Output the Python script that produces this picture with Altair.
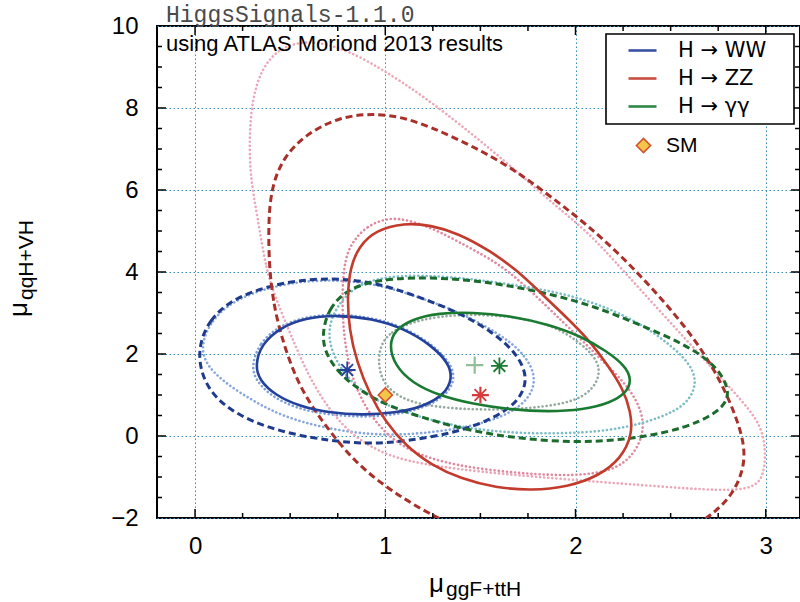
import altair as alt
import pandas as pd

# ---------------- axis ranges ----------------
X_DOMAIN = [-0.2, 3.18]
Y_DOMAIN = [-2, 10]
W, H = 643, 492

# ---------------- contours ----------------
# H -> WW
ww68_x = [0.315, 0.35, 0.45, 0.58, 0.74, 0.93, 1.10, 1.24, 1.33, 1.355, 1.31, 1.20, 1.05, 0.88, 0.70, 0.55, 0.42, 0.34]
ww68_y = [1.72, 2.25, 2.65, 2.88, 2.95, 2.87, 2.62, 2.22, 1.80, 1.42, 1.00, 0.72, 0.56, 0.51, 0.57, 0.72, 1.00, 1.35]
ww95_x = [0.005, 0.07, 0.22, 0.48, 0.73, 0.95, 1.15, 1.38, 1.56, 1.69, 1.755, 1.70, 1.56, 1.38, 1.12, 0.92, 0.72, 0.48, 0.23, 0.06]
ww95_y = [2.02, 2.85, 3.42, 3.78, 3.86, 3.74, 3.44, 3.03, 2.55, 2.03, 1.41, 0.82, 0.41, 0.09, -0.12, -0.20, -0.12, 0.06, 0.46, 1.10]
ww68o_x = [0.295, 0.34, 0.44, 0.58, 0.74, 0.94, 1.11, 1.25, 1.34, 1.37, 1.32, 1.20, 1.05, 0.88, 0.69, 0.53, 0.40, 0.32]
ww68o_y = [1.72, 2.28, 2.68, 2.91, 2.98, 2.89, 2.63, 2.22, 1.80, 1.40, 0.98, 0.68, 0.51, 0.46, 0.52, 0.68, 0.97, 1.35]
ww95o_x = [0.015, 0.08, 0.23, 0.49, 0.73, 0.95, 1.16, 1.40, 1.59, 1.73, 1.80, 1.75, 1.61, 1.41, 1.16, 0.93, 0.68, 0.46, 0.31, 0.12]
ww95o_y = [2.02, 2.84, 3.40, 3.75, 3.82, 3.71, 3.42, 3.00, 2.52, 2.03, 1.41, 0.84, 0.44, 0.19, 0.04, 0.02, 0.19, 0.48, 0.84, 1.40]

# H -> ZZ
zz68_x = [1.10, 0.95, 0.86, 0.815, 0.80, 0.81, 0.85, 0.92, 1.00, 1.11, 1.24, 1.40, 1.58, 1.77, 1.96, 2.12, 2.24, 2.30, 2.29, 2.25, 2.17, 2.07, 1.94, 1.81, 1.69, 1.55, 1.38, 1.24]
zz68_y = [5.20, 5.02, 4.62, 4.10, 3.40, 2.60, 1.80, 1.00, 0.35, -0.25, -0.70, -1.05, -1.26, -1.33, -1.24, -0.98, -0.55, 0.05, 0.60, 1.15, 1.72, 2.35, 2.95, 3.52, 4.05, 4.52, 4.95, 5.14]
zz95_x = [0.45, 0.41, 0.39, 0.385, 0.40, 0.46, 0.58, 0.76, 0.93, 1.11, 1.37, 1.635, 1.81, 2.065, 2.31, 2.59, 2.76, 2.87, 2.90, 2.83, 2.70, 2.45, 2.05, 1.60, 1.266, 1.05, 0.85, 0.68, 0.54]
zz95_y = [2.46, 3.30, 4.13, 5.15, 6.04, 6.77, 7.36, 7.78, 7.87, 7.78, 7.28, 6.63, 6.05, 5.15, 4.09, 2.63, 1.41, 0.19, -0.62, -1.44, -2.0, -2.7, -3.0, -2.7, -2.0, -1.40, -0.70, 0.27, 1.24]
zz68o_x = [1.02, 0.90, 0.82, 0.78, 0.77, 0.80, 0.86, 0.95, 1.10, 1.37, 1.72, 2.00, 2.20, 2.31, 2.36, 2.35, 2.28, 2.16, 2.02, 1.86, 1.64, 1.46, 1.28, 1.14]
zz68o_y = [5.34, 5.12, 4.70, 4.20, 3.00, 1.80, 1.00, 0.30, -0.35, -0.74, -0.92, -0.98, -0.85, -0.45, 0.10, 0.60, 1.20, 1.75, 2.40, 3.11, 4.09, 4.55, 5.00, 5.25]
zz95o_x = [0.42, 0.37, 0.33, 0.29, 0.285, 0.30, 0.35, 0.44, 0.57, 0.72, 0.90, 1.10, 1.30, 1.635, 1.89, 2.065, 2.24, 2.59, 2.85, 2.98, 3.00, 2.99, 2.94, 2.77, 2.41, 2.065, 1.46, 1.10, 0.93, 0.78, 0.62, 0.50]
zz95o_y = [3.40, 4.13, 5.31, 6.30, 7.30, 8.20, 8.97, 9.45, 9.64, 9.55, 9.18, 8.60, 7.95, 6.69, 5.63, 4.98, 4.09, 2.30, 1.00, 0.27, -0.40, -0.95, -1.28, -1.34, -1.22, -1.10, -0.87, -0.62, -0.30, 0.19, 1.20, 2.50]

# H -> gamma gamma
gg68_x = [1.02, 1.05, 1.14, 1.28, 1.46, 1.66, 1.86, 2.03, 2.16, 2.26, 2.295, 2.27, 2.18, 2.04, 1.86, 1.66, 1.46, 1.28, 1.14, 1.05]
gg68_y = [2.22, 2.58, 2.85, 3.00, 3.02, 2.93, 2.72, 2.43, 2.08, 1.72, 1.38, 1.06, 0.80, 0.64, 0.59, 0.64, 0.78, 0.99, 1.30, 1.72]
gg95_x = [0.665, 0.70, 0.80, 0.95, 1.15, 1.40, 1.64, 1.89, 2.10, 2.33, 2.57, 2.74, 2.815, 2.78, 2.66, 2.48, 2.24, 2.00, 1.72, 1.46, 1.20, 0.95, 0.78, 0.69]
gg95_y = [2.45, 3.10, 3.58, 3.80, 3.87, 3.83, 3.68, 3.44, 3.16, 2.73, 2.25, 1.73, 1.10, 0.70, 0.35, 0.08, -0.10, -0.16, -0.07, 0.11, 0.43, 0.85, 1.40, 1.95]
gg68o_x = [0.96, 1.02, 1.18, 1.40, 1.68, 1.88, 2.02, 2.12, 2.13, 2.05, 1.85, 1.55, 1.25, 1.08, 0.97]
gg68o_y = [2.10, 2.55, 2.85, 2.98, 2.92, 2.70, 2.30, 1.85, 1.41, 0.92, 0.70, 0.62, 0.70, 0.90, 1.35]
gg95o_x = [0.69, 0.72, 0.82, 0.97, 1.20, 1.46, 1.81, 2.07, 2.33, 2.50, 2.61, 2.64, 2.58, 2.45, 2.28, 2.07, 1.70, 1.40, 1.15, 0.95, 0.79]
gg95o_y = [2.30, 3.00, 3.60, 3.88, 3.93, 3.83, 3.60, 3.32, 2.79, 2.22, 1.73, 1.24, 0.75, 0.45, 0.22, 0.07, 0.05, 0.20, 0.50, 0.85, 1.40]

# best-fit points and SM
star_x = [0.80, 1.60, 1.50]
star_y = [1.61, 1.71, 1.00]
star_col = ["#23409a", "#1a7a32", "#d63a3a"]
plus_x = [1.47, 1.50]
plus_y = [1.73, 0.99]
plus_col = ["#86b98f", "#f08aa0"]
sm_x = [1.0]
sm_y = [1.0]

# legend
procs = ["H \u2192 WW", "H \u2192 ZZ", "H \u2192 \u03b3\u03b3"]
proc_cols = ["#23409a", "#c23b2c", "#1a7a32"]

# ticks
x_major = [0, 1, 2, 3]
x_minor = [0.25, 0.5, 0.75, 1.25, 1.5, 1.75, 2.25, 2.5, 2.75]
y_major = [0, 2, 4, 6, 8]
y_minor = [-1.5, -1, -0.5, 0.5, 1, 1.5, 2.5, 3, 3.5, 4.5, 5, 5.5, 6.5, 7, 7.5, 8.5, 9, 9.5]


def contour(name, xs, ys, **extra):
    rows = []
    for i, (a, b) in enumerate(zip(xs, ys)):
        r = {"cid": name, "i": i, "x": a, "y": b}
        r.update(extra)
        rows.append(r)
    return rows


FONT = "Liberation Sans"
xscale = alt.Scale(domain=X_DOMAIN, nice=False, zero=False)
yscale = alt.Scale(domain=Y_DOMAIN, nice=False, zero=False)
xaxis = alt.Axis(values=x_major, grid=True, gridDash=[1.5, 2.5], gridColor="#3f8fb5", gridWidth=1,
                 tickSize=0, domain=False, labelFontSize=24, labelFont=FONT, labelColor="black",
                 labelPadding=16, title=None)
yaxis = alt.Axis(values=[-2, 0, 2, 4, 6, 8, 10], grid=True, gridDash=[1.5, 2.5], gridColor="#3f8fb5",
                 gridWidth=1, tickSize=0, domain=False, labelFontSize=24, labelFont=FONT,
                 labelColor="black", labelPadding=19, title=None)


def X(f="x"):
    return alt.X(f"{f}:Q", scale=xscale, axis=xaxis)


def Y(f="y"):
    return alt.Y(f"{f}:Q", scale=yscale, axis=yaxis)


INTERP = "basis-closed"

# ---- dotted (light) contours ----
dotted_rows = (contour("ww68o", ww68o_x, ww68o_y, col="#7f9fd8")
               + contour("ww95o", ww95o_x, ww95o_y, col="#86a6dc")
               + contour("zz68o", zz68o_x, zz68o_y, col="#e0889e")
               + contour("zz95o", zz95o_x, zz95o_y, col="#eaa8b9")
               + contour("gg68o", gg68o_x, gg68o_y, col="#93aa9c")
               + contour("gg95o", gg95o_x, gg95o_y, col="#7dbdc8"))
dotted = alt.Chart(pd.DataFrame(dotted_rows)).mark_line(
    interpolate=INTERP, clip=True, strokeWidth=2.6, strokeDash=[0.1, 4], strokeCap="round"
).encode(x=X(), y=Y(), detail="cid:N", order="i:Q", color=alt.Color("col:N", scale=None))

# ---- dashed (95%) contours ----
dashed_rows = (contour("ww95", ww95_x, ww95_y, col="#1f3b8c")
               + contour("zz95", zz95_x, zz95_y, col="#a9302a")
               + contour("gg95", gg95_x, gg95_y, col="#1b6c2c"))
dashed = alt.Chart(pd.DataFrame(dashed_rows)).mark_line(
    interpolate=INTERP, clip=True, strokeWidth=3, strokeDash=[7, 4]
).encode(x=X(), y=Y(), detail="cid:N", order="i:Q", color=alt.Color("col:N", scale=None))

# ---- solid (68%) contours with legend ----
solid_rows = (contour("ww68", ww68_x, ww68_y, proc=procs[0])
              + contour("zz68", zz68_x, zz68_y, proc=procs[1])
              + contour("gg68", gg68_x, gg68_y, proc=procs[2]))
solid = alt.Chart(pd.DataFrame(solid_rows)).mark_line(
    interpolate=INTERP, clip=True, strokeWidth=2.6
).encode(
    x=X(), y=Y(), detail="cid:N", order="i:Q",
    color=alt.Color("proc:N", scale=alt.Scale(domain=procs, range=proc_cols),
                    legend=alt.Legend(title=None, orient="none", legendX=470, legendY=9,
                                      symbolType="stroke", symbolSize=784, symbolStrokeWidth=2.6,
                                      labelFontSize=21, labelFont="DejaVu Sans", labelColor="black",
                                      labelOffset=20, rowPadding=2, padding=0)),
)

# ---- markers ----
AST = "M0,-1L0,1M-1,0L1,0M-0.7,-0.7L0.7,0.7M-0.7,0.7L0.7,-0.7"
PLUS = "M0,-1L0,1M-1,0L1,0"
stars = alt.Chart(pd.DataFrame({"x": star_x, "y": star_y, "c": star_col})).mark_point(
    shape=AST, size=280, filled=False, strokeWidth=1.8, opacity=1
).encode(x=X(), y=Y(), color=alt.Color("c:N", scale=None))
pluses = alt.Chart(pd.DataFrame({"x": plus_x, "y": plus_y, "c": plus_col})).mark_point(
    shape=PLUS, size=300, filled=False, strokeWidth=2.2, opacity=0.9
).encode(x=X(), y=Y(), color=alt.Color("c:N", scale=None))
sm = alt.Chart(pd.DataFrame({"x": sm_x, "y": sm_y, "lab": ["SM"]})).mark_point(
    shape="diamond", size=200, filled=True, opacity=1, stroke="#d5502c", strokeWidth=1.6
).encode(
    x=X(), y=Y(),
    fill=alt.Fill("lab:N", scale=alt.Scale(domain=["SM"], range=["#f3c64a"]),
                  legend=alt.Legend(title=None, orient="none", legendX=476, legendY=109,
                                    symbolType="diamond", symbolSize=200,
                                    symbolStrokeColor="#d5502c", symbolStrokeWidth=1.6,
                                    labelFontSize=21, labelFont=FONT, labelColor="black",
                                    labelOffset=12, padding=0)),
)

# ---- inward ticks on all four sides ----
def xticks(vals, length):
    d = pd.DataFrame({"x": vals})
    bottom = alt.Chart(d).mark_rule(color="black", strokeWidth=1.5).encode(
        x=X(), y=alt.value(H), y2=alt.value(H - length))
    top = alt.Chart(d).mark_rule(color="black", strokeWidth=1.5).encode(
        x=X(), y=alt.value(0), y2=alt.value(length))
    return [bottom, top]


def yticks(vals, length):
    d = pd.DataFrame({"y": vals})
    left = alt.Chart(d).mark_rule(color="black", strokeWidth=1.5).encode(
        y=Y(), x=alt.value(0), x2=alt.value(length))
    right = alt.Chart(d).mark_rule(color="black", strokeWidth=1.5).encode(
        y=Y(), x=alt.value(W), x2=alt.value(W - length))
    return [left, right]


ticks = xticks(x_major, 9) + xticks(x_minor, 5) + yticks(y_major, 9) + yticks(y_minor, 5)

# ---- legend frame and texts ----
one = pd.DataFrame({"a": [0]})
frame = alt.Chart(one).mark_rect(fill="white", stroke="black", strokeWidth=1.6).encode(
    x=alt.value(449), x2=alt.value(637), y=alt.value(8), y2=alt.value(98))
title = alt.Chart(one).mark_text(
    text="HiggsSignals-1.1.0", align="left", baseline="alphabetic",
    font="Liberation Mono", fontSize=23, color="#4a4a4a").encode(x=alt.value(9), y=alt.value(-4))
subtitle = alt.Chart(one).mark_text(
    text="using ATLAS Moriond 2013 results", align="left", baseline="middle",
    font=FONT, fontSize=22, color="black").encode(x=alt.value(9), y=alt.value(18))
xt_mu = alt.Chart(one).mark_text(text="\u03bc", align="left", baseline="alphabetic",
                                 font=FONT, fontSize=26, color="black").encode(
    x=alt.value(272), y=alt.value(566))
xt_sub = alt.Chart(one).mark_text(text="ggF+ttH", align="left", baseline="alphabetic",
                                  font=FONT, fontSize=21, color="black").encode(
    x=alt.value(289), y=alt.value(570))
yt_mu = alt.Chart(one).mark_text(text="\u03bc", align="left", baseline="alphabetic", angle=270,
                                 font=FONT, fontSize=26, color="black").encode(
    x=alt.value(-130), y=alt.value(291))
yt_sub = alt.Chart(one).mark_text(text="qqH+VH", align="left", baseline="alphabetic", angle=270,
                                  font=FONT, fontSize=21, color="black").encode(
    x=alt.value(-124), y=alt.value(274))

chart = alt.layer(
    dotted, dashed, solid, pluses, stars, sm, *ticks, frame, title, subtitle,
    xt_mu, xt_sub, yt_mu, yt_sub,
).properties(
    width=W, height=H,
    padding={"left": 157, "top": 26, "right": 0, "bottom": 84},
    autosize=alt.AutoSizeParams(type="none"),
).configure_view(stroke="black", strokeWidth=2).configure_legend(strokeColor=None)

chart.save("out.html", embed_options={"renderer": "svg", "actions": False})
